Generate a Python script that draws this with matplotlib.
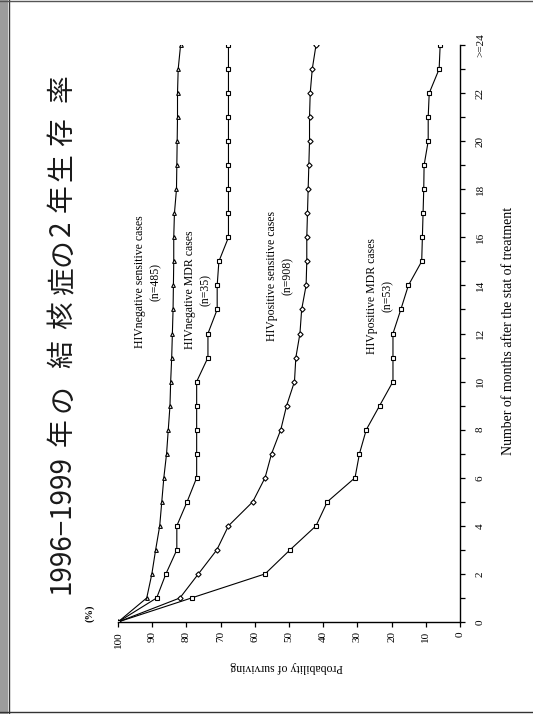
import matplotlib
matplotlib.use("Agg")
import matplotlib.pyplot as plt
from matplotlib.patches import Rectangle
from matplotlib.lines import Line2D

months = list(range(25))
month_ticks = list(range(0, 25, 2))
month_labels = ["0", "2", "4", "6", "8", "10", "12", "14", "16", "18", "20", "22", ">=24"]
prob_ticks = list(range(0, 101, 10))

neg_sens = [100, 91.6, 90.1, 89.0, 87.8, 87.2, 86.6, 85.8, 85.3, 84.8, 84.6, 84.3, 84.1,
            83.9, 83.8, 83.7, 83.7, 83.5, 82.9, 82.8, 82.7, 82.6, 82.6, 82.4, 81.7]
neg_mdr = [100, 88.7, 86.0, 82.8, 82.8, 79.8, 77.0, 77.0, 77.0, 77.0, 77.0, 73.7, 73.7,
           71.0, 71.0, 70.5, 67.7, 67.7, 67.7, 67.7, 67.7, 67.7, 67.7, 67.7, 67.7]
pos_sens = [100, 81.9, 76.5, 71.1, 67.7, 60.6, 57.0, 55.1, 52.4, 50.7, 48.4, 48.0, 46.8,
            46.3, 45.0, 44.8, 44.8, 44.6, 44.4, 44.2, 44.0, 44.0, 43.8, 43.2, 42.1]
pos_mdr = [100, 78.5, 57.0, 49.7, 42.1, 38.8, 30.7, 29.4, 27.4, 23.5, 19.6, 19.6, 19.6,
           17.3, 15.1, 11.2, 11.0, 10.8, 10.6, 10.5, 9.3, 9.3, 9.0, 6.1, 5.8]

series = [
    (neg_sens, "^", "HIVnegative sensitive cases\n(n=485)", 148, 282),
    (neg_mdr, "s", "HIVnegative MDR cases\n(n=35)", 198, 290),
    (pos_sens, "D", "HIVpositive sensitive cases\n(n=908)", 280, 276),
    (pos_mdr, "s", "HIVpositive MDR cases\n(n=53)", 380, 296),
]

title_parts = [("1996−1999", 524), ("年", 432), ("の", 398), ("結", 354), ("核", 315),
               ("症", 281), ("の", 252), ("2", 228), ("年", 198), ("生", 167),
               ("存", 132), ("率", 88)]

W, H = 533, 714
fig = plt.figure(figsize=(W / 100, H / 100), dpi=100)
fig.patch.set_facecolor("white")

def fx(px):
    return px / W

def fy(py):
    return 1 - py / H

# slide border
fig.add_artist(Rectangle((0, 0), fx(8), 1, transform=fig.transFigure,
                         facecolor="#9c9c9c", edgecolor="none"))
fig.add_artist(Line2D([fx(8.5), fx(8.5)], [0, 1], transform=fig.transFigure, color="#333333", lw=1))
fig.add_artist(Line2D([0, 1], [fy(0.7), fy(0.7)], transform=fig.transFigure, color="#555555", lw=1))
fig.add_artist(Line2D([0, 1], [fy(712), fy(712)], transform=fig.transFigure, color="#333333", lw=1))

# chart drawn rotated: x = probability (100 -> 0), y = months
ax = fig.add_axes([fx(118), fy(622), fx(460) - fx(118), fy(45) - fy(622)])
ax.set_xlim(100, 0)
ax.set_ylim(0, 24)
for sp in ["left", "top"]:
    ax.spines[sp].set_visible(False)
for sp in ["right", "bottom"]:
    ax.spines[sp].set_linewidth(1.0)

for vals, mk, label, tx, ty in series:
    ax.plot(vals, months, color="black", lw=0.8, marker=mk, markersize=2.7,
            markerfacecolor="white", markeredgecolor="black", markeredgewidth=0.8)
    fig.text(fx(tx), fy(ty), label, rotation=90, ha="center", va="center",
             multialignment="center", family="Liberation Serif", fontsize=8.5,
             linespacing=1.35)

ax.set_xticks(prob_ticks)
ax.set_xticklabels([str(t) for t in prob_ticks], rotation=90, family="Liberation Serif",
                   fontsize=8)
ax.yaxis.tick_right()
ax.set_yticks(month_ticks)
ax.set_yticks(months, minor=True)
ax.set_yticklabels(month_labels, rotation=90, va="center", family="Liberation Serif",
                   fontsize=8)
ax.tick_params(axis="both", which="both", direction="out", length=3.5, width=0.9, pad=3)
ax.tick_params(axis="y", which="major", pad=8)

fig.text(fx(90), fy(613), "(%)", rotation=90, ha="center", va="center",
         family="Liberation Serif", fontsize=7.5, weight="bold")
fig.text(fx(287), fy(667), "Probability of surviving", rotation=180, ha="center",
         va="center", family="Liberation Serif", fontsize=8.5)
fig.text(fx(509), fy(331), "Number of months after the stat of treatment", rotation=90,
         ha="center", va="center", family="Liberation Serif", fontsize=10)

for ch, py in title_parts:
    fig.text(fx(62), fy(py), ch, rotation=90, ha="center", va="center",
             family=["Noto Sans CJK JP", "DejaVu Sans"], fontsize=20, color="#1a1a1a")

fig.savefig("out.png", dpi=100)
